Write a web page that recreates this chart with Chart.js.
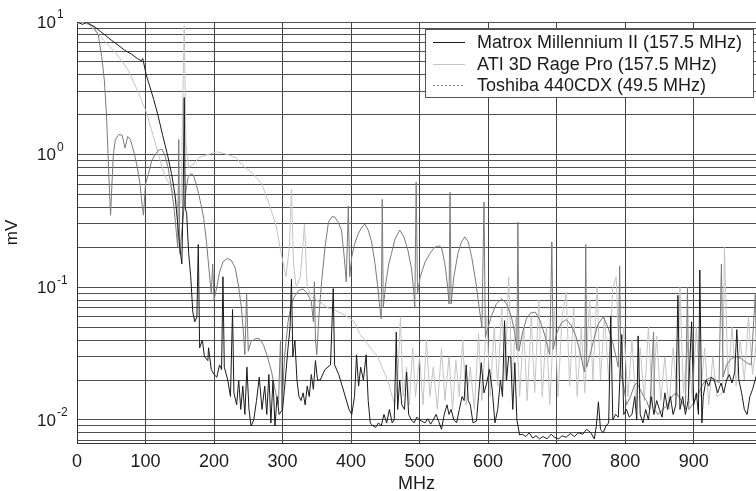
<!DOCTYPE html>
<html>
<head>
<meta charset="utf-8">
<script src="https://cdn.jsdelivr.net/npm/chart.js@4/dist/chart.umd.min.js"></script>
<style>
  body { margin: 0; background: #fff; overflow: hidden; }
  #grafica { display: block; }
</style>
</head>
<body>
<canvas id="grafica" width="756" height="491"></canvas>
<script>
// [MHz, mV]
const matrox = [[0,10],[8,9.6],[14,9.9],[20,9.5],[26,9.2],[34,8.5],[42,7.9],[50,7.3],[60,6.7],[70,6.1],[80,5.7],[88,5.3],[94,5.1],[96,5.3],[101,4.0],[106,3.3],[112,2.6],[118,2.0],[125,1.4],[132,1.0],[138,0.72],[143,0.5],[147,0.3],[150,0.2],[153,0.15],[155,0.5],[156.5,2.7],[158,0.4],[160,0.36],[163,0.18],[166,0.12],[169,0.065],[172,0.055],[175,0.06],[177,0.21],[179,0.035],[183,0.04],[186,0.03],[191,0.028],[192,0.035],[196,0.024],[200,0.022],[204,0.021],[208,0.026],[211,0.024],[213,0.12],[215,0.025],[220,0.02],[224,0.015],[227,0.068],[229,0.016],[233,0.013],[236,0.02],[239,0.012],[242,0.018],[245,0.011],[248,0.025],[251,0.012],[254,0.009],[258,0.01],[262,0.014],[266,0.021],[270,0.012],[274,0.018],[277,0.011],[280,0.022],[283,0.0095],[286,0.02],[289,0.009],[292,0.015],[295,0.011],[300,0.012],[304,0.02],[308,0.035],[311,0.05],[313,0.115],[315,0.03],[318,0.04],[321,0.02],[324,0.015],[327,0.014],[330,0.016],[333,0.013],[336,0.018],[339,0.015],[342,0.022],[345,0.017],[348,0.028],[351,0.02],[355,0.02],[362,0.024],[370,0.026],[374,0.098],[376,0.026],[382,0.022],[390,0.016],[397,0.012],[401,0.011],[405,0.015],[408,0.031],[411,0.018],[414,0.025],[418,0.02],[422,0.031],[425,0.014],[428,0.0095],[432,0.009],[436,0.0088],[440,0.0095],[444,0.009],[448,0.011],[452,0.0095],[456,0.012],[460,0.0095],[463,0.01],[466,0.046],[468,0.012],[471,0.02],[474,0.013],[478,0.012],[481,0.023],[484,0.011],[488,0.01],[492,0.0095],[496,0.0105],[500,0.01],[503,0.0098],[508,0.0095],[512,0.0102],[516,0.0093],[520,0.01],[524,0.011],[528,0.0097],[532,0.0085],[536,0.011],[540,0.013],[543,0.011],[546,0.012],[550,0.01],[554,0.0095],[558,0.012],[562,0.015],[565,0.014],[568,0.026],[571,0.014],[574,0.013],[578,0.0095],[583,0.0098],[586,0.015],[590,0.027],[594,0.016],[598,0.019],[602,0.024],[606,0.017],[610,0.0095],[614,0.012],[618,0.02],[621,0.015],[624,0.056],[627,0.02],[630,0.03],[633,0.03],[636,0.012],[639,0.027],[642,0.01],[646,0.0077],[650,0.0078],[655,0.0075],[660,0.008],[665,0.0073],[670,0.0076],[675,0.0072],[680,0.0075],[686,0.0072],[692,0.0078],[697,0.0074],[703,0.0072],[708,0.0076],[714,0.0074],[720,0.0079],[726,0.0075],[732,0.008],[738,0.0078],[744,0.0085],[750,0.008],[755,0.0072],[758,0.009],[761,0.0137],[764,0.0085],[768,0.008],[772,0.009],[776,0.0095],[779,0.061],[782,0.01],[786,0.011],[790,0.0105],[795,0.044],[798,0.011],[802,0.012],[806,0.0105],[810,0.011],[814,0.015],[817,0.01],[819,0.043],[822,0.011],[826,0.0095],[830,0.012],[834,0.01],[838,0.015],[842,0.011],[846,0.014],[850,0.012],[854,0.0105],[858,0.016],[862,0.012],[866,0.015],[870,0.011],[874,0.013],[877,0.087],[880,0.012],[884,0.015],[888,0.011],[892,0.014],[897,0.055],[900,0.013],[904,0.016],[907,0.011],[909,0.135],[912,0.0095],[914,0.015],[918,0.02],[922,0.018],[926,0.021],[930,0.02],[935,0.016],[940,0.019],[944,0.016],[948,0.02],[952,0.022],[956,0.019],[960,0.023],[963,0.048],[966,0.02],[970,0.016],[974,0.012],[978,0.011],[982,0.015],[986,0.017],[992,0.022]];

const ati = [[0,9.8],[10,9.9],[18,9.5],[30,8.2],[42,7.0],[55,6.0],[65,5.1],[75,4.3],[89,3.0],[101,2.1],[111,1.4],[120,0.95],[128,0.7],[135,0.6],[142,0.5],[148,0.4],[152,0.45],[154,2.0],[156.5,9.3],[159,1.2],[163,0.8],[170,0.85],[178,0.95],[190,1.0],[205,1.05],[220,1.0],[232,0.95],[245,0.8],[257,0.72],[270,0.6],[282,0.4],[290,0.3],[298,0.18],[305,0.12],[310,0.2],[313,0.55],[316,0.15],[320,0.1],[326,0.12],[332,0.3],[336,0.1],[342,0.085],[350,0.08],[358,0.075],[366,0.07],[374,0.068],[382,0.065],[390,0.062],[398,0.058],[405,0.055],[412,0.045],[420,0.04],[428,0.035],[434,0.032],[439,0.03],[445,0.025],[450,0.022],[456,0.018],[460,0.015],[464,0.013],[468,0.02],[472,0.06],[476,0.015],[481,0.025],[485,0.013],[490,0.035],[494,0.015],[500,0.03],[505,0.013],[510,0.04],[515,0.015],[520,0.025],[526,0.012],[532,0.035],[537,0.014],[543,0.03],[548,0.012],[553,0.028],[558,0.015],[563,0.04],[568,0.013],[574,0.025],[580,0.012],[586,0.045],[591,0.014],[598,0.06],[603,0.015],[609,0.05],[614,0.018],[620,0.07],[625,0.02],[630,0.12],[635,0.02],[641,0.06],[646,0.015],[652,0.05],[657,0.014],[663,0.06],[668,0.016],[674,0.08],[679,0.015],[685,0.05],[690,0.013],[697,0.07],[702,0.015],[708,0.06],[714,0.092],[719,0.018],[725,0.07],[730,0.015],[736,0.05],[741,0.016],[748,0.08],[753,0.02],[759,0.1],[764,0.02],[770,0.06],[776,0.02],[782,0.1],[787,0.12],[792,0.02],[798,0.05],[804,0.015],[810,0.04],[816,0.012],[822,0.035],[828,0.014],[834,0.05],[840,0.013],[846,0.043],[852,0.014],[858,0.03],[864,0.012],[870,0.035],[876,0.015],[880,0.1],[885,0.016],[892,0.04],[898,0.014],[904,0.05],[910,0.015],[916,0.035],[922,0.013],[928,0.03],[934,0.015],[942,0.016],[945,0.2],[950,0.02],[956,0.05],[962,0.018],[968,0.04],[974,0.02],[980,0.06],[986,0.022],[992,0.04]];

const toshiba = [[0,10],[16,10],[24,9.2],[31,8],[36,5.5],[40,3.6],[43,2],[45,1.1],[47,0.6],[49,0.35],[51,0.6],[53,1.0],[56,1.3],[61,1.42],[66,1.4],[70,1.12],[74,1.37],[78,1.3],[84,1.0],[88,0.8],[92,0.6],[95,0.42],[97,0.35],[100,0.6],[104,0.71],[109,0.9],[114,1.0],[119,1.08],[124,1.1],[128,1.0],[133,0.8],[138,0.55],[142,0.38],[145,0.26],[147,0.2],[148.5,1.3],[150,0.18],[154,0.3],[158,0.5],[162,0.67],[166,0.72],[170,0.7],[176,0.55],[181,0.42],[185,0.33],[189,0.22],[193,0.13],[196,0.09],[198,0.15],[200,0.08],[204,0.1],[208,0.13],[213,0.155],[219,0.165],[225,0.16],[231,0.14],[236,0.1],[240,0.07],[243,0.045],[245,0.031],[247.5,0.09],[250,0.033],[254,0.039],[260,0.041],[266,0.041],[272,0.037],[278,0.03],[284,0.023],[290,0.016],[294,0.013],[297,0.04],[299,0.012],[303,0.03],[308,0.055],[313,0.075],[318,0.086],[324,0.095],[330,0.097],[336,0.09],[342,0.078],[345,0.055],[346.5,0.11],[348,0.04],[350,0.031],[353,0.06],[357,0.11],[362,0.2],[367,0.31],[372,0.34],[376,0.34],[381,0.31],[386,0.27],[390,0.17],[393,0.11],[396,0.41],[398,0.12],[401,0.17],[405,0.21],[410,0.25],[415,0.28],[420,0.3],[425,0.27],[430,0.22],[435,0.15],[439,0.1],[442,0.07],[444,0.058],[445.5,0.46],[447,0.07],[451,0.11],[455,0.15],[459,0.18],[464,0.23],[471,0.27],[477,0.24],[483,0.19],[488,0.14],[491,0.1],[493,0.07],[495,0.62],[497,0.09],[501,0.12],[508,0.155],[515,0.18],[522,0.2],[528,0.205],[532,0.2],[537,0.15],[541,0.1],[543,0.075],[544.5,0.52],[546,0.075],[550,0.12],[556,0.18],[561,0.22],[566,0.24],[571,0.22],[576,0.17],[582,0.11],[587,0.07],[591,0.05],[594,0.44],[596,0.042],[600,0.05],[605,0.061],[612,0.075],[620,0.082],[627,0.075],[634,0.06],[639,0.045],[642,0.034],[643.5,0.31],[645,0.033],[650,0.045],[656,0.058],[662,0.064],[669,0.065],[676,0.056],[683,0.043],[688,0.034],[690,0.031],[693,0.22],[695,0.034],[700,0.045],[707,0.054],[714,0.057],[721,0.052],[728,0.043],[734,0.033],[739,0.025],[741,0.023],[742.5,0.21],[744,0.025],[748,0.03],[753,0.038],[760,0.052],[768,0.06],[775,0.05],[782,0.038],[788,0.028],[790,0.025],[792,0.145],[794,0.022],[798,0.018],[802,0.013],[808,0.015],[813,0.018],[817,0.019],[822,0.017],[827,0.015],[831,0.014],[836,0.012],[841.5,0.046],[843,0.012],[848,0.011],[855,0.012],[862,0.013],[868,0.015],[875,0.016],[882,0.014],[888,0.012],[891,0.1],[893,0.012],[898,0.013],[905,0.015],[912,0.018],[918,0.02],[925,0.021],[932,0.02],[937,0.019],[940.5,0.15],[943,0.021],[948,0.026],[955,0.029],[962,0.03],[970,0.029],[977,0.027],[984,0.026],[990,0.09],[992,0.027]];

const nombres = ["Matrox Millennium II (157.5 MHz)", "ATI 3D Rage Pro (157.5 MHz)", "Toshiba 440CDX (49.5 MHz)"];
const colores = ["#1a1a1a", "#c4c4c4", "#7a7a7a"];
const ticksX = [0, 100, 200, 300, 400, 500, 600, 700, 800, 900];
const decadas = [10, 1, 0.1, 0.01];
const exponentes = ["1", "0", "-1", "-2"];

const yMin = 0.0067, yMax = 10, xMax = 991;

// lineas de rejilla 1..9 por decada
const rejillaY = [];
for (let e = -3; e <= 1; e++) {
  for (let s = 1; s <= 9; s++) {
    const v = s * Math.pow(10, e);
    if (v >= yMin * 0.999 && v <= yMax * 1.001) rejillaY.push(v);
  }
}

const fuente = '"Liberation Sans", Arial, sans-serif';

// etiquetas 10^n y leyenda dibujadas a mano
const extras = {
  id: "extras",
  afterDraw(chart) {
    const ctx = chart.ctx;
    const y = chart.scales.y;
    ctx.save();
    ctx.fillStyle = "#1a1a1a";
    decadas.forEach((d, i) => {
      const py = y.getPixelForValue(d);
      ctx.font = "17px " + fuente;
      ctx.textAlign = "right";
      ctx.textBaseline = "middle";
      ctx.fillText("10", 56, py + 1);
      ctx.font = "12px " + fuente;
      ctx.textAlign = "left";
      ctx.fillText(exponentes[i], 57, py - 7);
    });

    // leyenda
    const lx = 425, ly = 29, lw = 328, lh = 68;
    ctx.fillStyle = "#fff";
    ctx.fillRect(lx, ly, lw, lh);
    ctx.strokeStyle = "#555";
    ctx.lineWidth = 1;
    ctx.strokeRect(lx + 0.5, ly + 0.5, lw, lh);
    nombres.forEach((n, i) => {
      const cy = 42 + i * 21.7;
      ctx.strokeStyle = colores[i];
      ctx.setLineDash(i === 2 ? [2, 2] : []);
      ctx.beginPath();
      ctx.moveTo(433, Math.round(cy) + 0.5);
      ctx.lineTo(465, Math.round(cy) + 0.5);
      ctx.stroke();
      ctx.setLineDash([]);
      ctx.fillStyle = "#1a1a1a";
      ctx.font = "18px " + fuente;
      ctx.textAlign = "left";
      ctx.textBaseline = "middle";
      ctx.fillText(n, 477, cy + 1);
    });
    ctx.restore();
  }
};

const serie = (pts, i, orden) => ({
  label: nombres[i],
  data: pts.map(p => ({ x: p[0], y: p[1] })),
  borderColor: colores[i],
  borderWidth: 1,
  pointRadius: 0,
  tension: 0,
  fill: false,
  order: orden,
});

new Chart(document.getElementById("grafica").getContext("2d"), {
  type: "line",
  data: {
    datasets: [serie(matrox, 0, 0), serie(ati, 1, 2), serie(toshiba, 2, 1)],
  },
  plugins: [extras],
  options: {
    responsive: false,
    animation: false,
    devicePixelRatio: 1,
    layout: { padding: { top: 22, right: 0, bottom: 0, left: 0 } },
    plugins: { legend: { display: false }, tooltip: { enabled: false } },
    scales: {
      x: {
        type: "linear",
        min: 0,
        max: xMax,
        afterBuildTicks: s => { s.ticks = ticksX.map(v => ({ value: v })); },
        afterFit: s => { s.height = 48; },
        grid: { color: "#444", lineWidth: 1, drawTicks: false },
        border: { color: "#333" },
        ticks: { autoSkip: false, maxRotation: 0, padding: 8, color: "#1a1a1a", font: { size: 18, family: fuente } },
        title: { display: true, text: "MHz", color: "#1a1a1a", font: { size: 18, family: fuente }, padding: { top: 0, bottom: -4 } },
      },
      y: {
        type: "logarithmic",
        min: yMin,
        max: yMax,
        afterBuildTicks: s => { s.ticks = rejillaY.map(v => ({ value: v })); },
        afterFit: s => { s.width = 77; },
        grid: { color: "#505050", lineWidth: 1, drawTicks: false },
        border: { color: "#333" },
        ticks: { display: false },
        title: { display: true, text: "mV", color: "#1a1a1a", font: { size: 17, family: fuente }, padding: { top: 2, bottom: 0 } },
      },
    },
  },
});
</script>
</body>
</html>
